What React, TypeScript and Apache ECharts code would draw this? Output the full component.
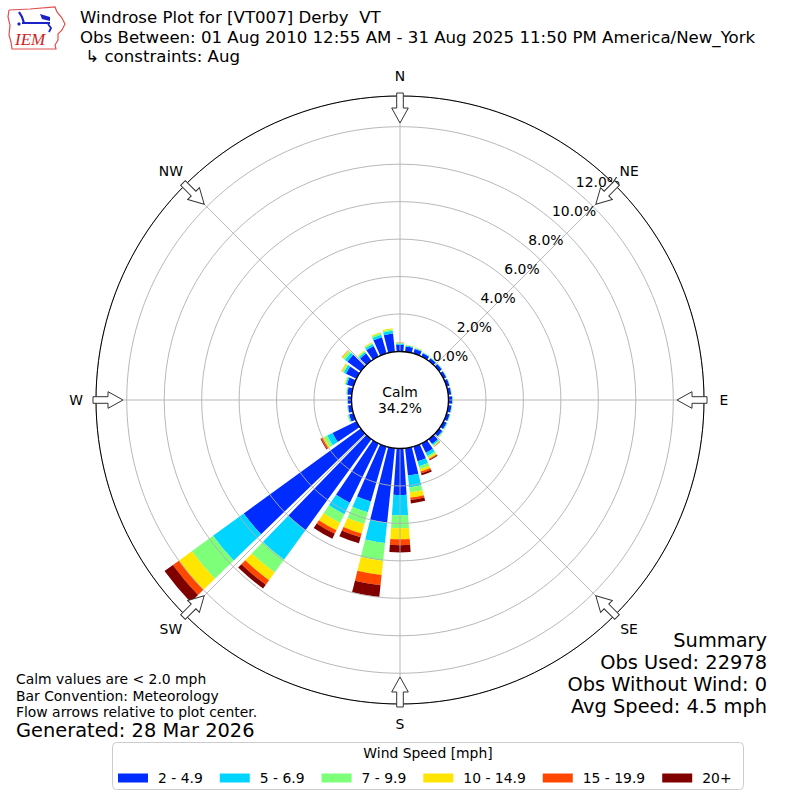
import React, { useEffect, useRef } from "react";
import * as echarts from "echarts";

// ---------- data ----------
const DIRECTIONS = [
  "0", "10", "20", "30", "40", "50", "60", "70", "80", "90", "100", "110",
  "120", "130", "140", "150", "160", "170", "180", "190", "200", "210", "220", "230",
  "240", "250", "260", "270", "280", "290", "300", "310", "320", "330", "340", "350",
];
const SPEED_BINS = ["2 - 4.9", "5 - 6.9", "7 - 9.9", "10 - 14.9", "15 - 19.9", "20+"];
const BIN_COLORS = ["#002cff", "#00d4ff", "#7dff7a", "#ffe500", "#ff4700", "#800000"];

// percent of observations per direction for each speed bin
const SPD_2_5 = [
  0.36, 0.28, 0.25, 0.19, 0.17, 0.17, 0.16, 0.16, 0.16, 0.19, 0.17, 0.17,
  0.18, 0.2, 0.32, 0.55, 0.81, 1.47, 2.48, 4.0, 3.05, 3.52, 6.0, 7.72,
  1.42, 0.24, 0.2, 0.19, 0.24, 0.36, 0.62, 0.88, 0.48, 0.62, 0.9, 0.98,
];
const SPD_5_7 = [
  0.07, 0.05, 0.04, 0.03, 0.03, 0.03, 0.02, 0.02, 0.02, 0.03, 0.03, 0.03,
  0.04, 0.05, 0.08, 0.18, 0.28, 0.63, 1.08, 1.09, 0.6, 0.67, 1.95, 2.03,
  0.32, 0.05, 0.03, 0.03, 0.04, 0.07, 0.13, 0.17, 0.09, 0.11, 0.14, 0.15,
];
const SPD_7_10 = [
  0.03, 0.03, 0.02, 0.02, 0.01, 0.01, 0.01, 0.01, 0.01, 0.01, 0.01, 0.01,
  0.02, 0.03, 0.05, 0.1, 0.16, 0.28, 0.7, 0.96, 0.65, 0.52, 0.85, 1.4,
  0.18, 0.03, 0.02, 0.01, 0.02, 0.04, 0.08, 0.12, 0.06, 0.07, 0.09, 0.08,
];
const SPD_10_15 = [
  0.02, 0.02, 0.02, 0.01, 0.01, 0.01, 0.01, 0.01, 0.01, 0.01, 0.01, 0.01,
  0.01, 0.02, 0.03, 0.08, 0.13, 0.27, 0.59, 0.76, 0.53, 0.44, 0.5, 0.85,
  0.1, 0.02, 0.01, 0.01, 0.02, 0.03, 0.06, 0.07, 0.04, 0.04, 0.05, 0.05,
];
const SPD_15_20 = [
  0.01, 0, 0, 0, 0, 0, 0, 0, 0, 0, 0, 0,
  0, 0, 0.01, 0.05, 0.1, 0.13, 0.31, 0.54, 0.21, 0.21, 0.3, 0.4,
  0.08, 0, 0, 0, 0, 0, 0.01, 0.02, 0, 0, 0, 0,
];
const SPD_20_UP = [
  0, 0, 0, 0, 0, 0, 0, 0, 0, 0, 0, 0,
  0, 0, 0.01, 0.04, 0.11, 0.18, 0.39, 0.64, 0.33, 0.29, 0.25, 0.55,
  0.04, 0, 0, 0, 0, 0, 0, 0, 0, 0, 0, 0,
];
const BIN_VALUES = [SPD_2_5, SPD_5_7, SPD_7_10, SPD_10_15, SPD_15_20, SPD_20_UP];

const RADIAL_TICKS = [0, 2, 4, 6, 8, 10, 12];
const COMPASS_LABELS = ["N", "NE", "E", "SE", "S", "SW", "W", "NW"];
const COMPASS_ANGLES = [0, 45, 90, 135, 180, 225, 270, 315];

const TITLE_LINES = [
  "Windrose Plot for [VT007] Derby  VT",
  "Obs Between: 01 Aug 2010 12:55 AM - 31 Aug 2025 11:50 PM America/New_York",
  " \u21b3 constraints: Aug",
];
const NOTE_LINES = [
  "Calm values are < 2.0 mph",
  "Bar Convention: Meteorology",
  "Flow arrows relative to plot center.",
];
const GENERATED = "Generated: 28 Mar 2026";
const SUMMARY_LINES = ["Summary", "Obs Used: 22978", "Obs Without Wind: 0", "Avg Speed: 4.5 mph"];
const CALM_TEXT = "Calm\n34.2%";
const LEGEND_TITLE = "Wind Speed [mph]";

// ---------- layout ----------
const CX = 400;
const CY = 400;
const R0 = 48.5;
const R1 = 304;
const RMAX = 13.64;
const FONT = "'DejaVu Sans', sans-serif";
const GRID = "#b0b0b0";

function txt(text: string, x: number, y: number, size: number, align = "left", valign = "middle", extra: any = {}) {
  return {
    type: "text",
    z: 100,
    style: {
      text,
      x,
      y,
      fill: "#000",
      font: `${size}px ${FONT}`,
      textAlign: align,
      textVerticalAlign: valign,
      align,
      verticalAlign: valign,
      ...extra,
    },
  };
}

function buildGraphics() {
  const g: any[] = [];
  // logo
  g.push({
    type: "polyline",
    z: 100,
    shape: {
      points: [
        [9, 10], [30, 9], [55, 7], [57, 12], [62, 18], [65, 24], [62, 30], [58, 34],
        [58, 40], [55, 45], [56, 49], [30, 49], [12, 49], [11, 42], [9, 35], [10, 25], [8, 17], [9, 10],
      ],
    },
    style: { stroke: "#e05050", lineWidth: 1.2, fill: "none" },
  });
  g.push({ type: "polyline", z: 101, shape: { points: [[19, 12], [22, 17], [24, 23]] }, style: { stroke: "#1a22c8", lineWidth: 2.2, fill: "none" } });
  g.push({ type: "line", z: 101, shape: { x1: 22, y1: 23, x2: 50, y2: 23 }, style: { stroke: "#1a22c8", lineWidth: 2 } });
  g.push({ type: "polygon", z: 101, shape: { points: [[40, 14], [50, 17], [50, 21], [42, 19]] }, style: { fill: "#1a22c8" } });
  g.push({ type: "polyline", z: 101, shape: { points: [[48, 24], [51, 28], [49, 32]] }, style: { stroke: "#1a22c8", lineWidth: 1.8, fill: "none" } });
  g.push({ type: "circle", z: 101, shape: { cx: 19, cy: 24, r: 1.6 }, style: { fill: "#1a22c8" } });
  g.push({
    type: "text",
    z: 101,
    style: { text: "IEM", x: 15, y: 39, fill: "#d42020", font: "italic 17px 'Liberation Serif', serif", textVerticalAlign: "middle", verticalAlign: "middle", lineHeight: 16 },
  });

  // titles
  TITLE_LINES.forEach((t, i) => g.push(txt(t, 80, 17.5 + i * 19.5, 16.6, "left", "middle", { lineHeight: 17 })));

  // radial tick labels
  const la = (39.5 * Math.PI) / 180;
  RADIAL_TICKS.forEach((v) => {
    const r = R0 + ((R1 - R0) * v) / RMAX;
    g.push(txt(`${v.toFixed(1)}%`, CX + r * Math.sin(la) + 2, CY - r * Math.cos(la), 13.9, "left", "bottom"));
  });

  // compass labels and flow arrows
  COMPASS_LABELS.forEach((lab, i) => {
    const a = (COMPASS_ANGLES[i] * Math.PI) / 180;
    const rl = 324;
    g.push(txt(lab, CX + rl * Math.sin(a), CY - rl * Math.cos(a), 13.9, "center", "middle"));
    g.push({
      type: "group",
      x: CX,
      y: CY,
      rotation: -a,
      z: 100,
      children: [
        {
          type: "polygon",
          z: 100,
          shape: {
            points: [
              [-3.3, -307], [3.3, -307], [3.3, -292], [8.3, -292], [0, -277], [-8.3, -292], [-3.3, -292],
            ],
          },
          style: { fill: "#fff", stroke: "#333", lineWidth: 1 },
        },
      ],
    });
  });

  // calm circle
  g.push({
    type: "circle",
    z: 90,
    shape: { cx: CX, cy: CY, r: R0 },
    style: { fill: "#fff", stroke: "#000", lineWidth: 1.3 },
  });
  g.push(txt(CALM_TEXT, CX, CY, 13.9, "center", "middle", { lineHeight: 16 }));

  // notes
  NOTE_LINES.forEach((t, i) => g.push(txt(t, 16, 679 + i * 16.5, 13.9, "left", "middle", { lineHeight: 15 })));
  g.push(txt(GENERATED, 16, 730, 19.4, "left", "middle", { lineHeight: 19 }));

  // summary
  SUMMARY_LINES.forEach((t, i) => g.push(txt(t, 767, 640 + i * 22, 19.4, "right", "middle", { lineHeight: 21 })));

  // legend box
  g.push({
    type: "rect",
    z: 50,
    shape: { x: 112.5, y: 742.5, width: 631, height: 47, r: 4 },
    style: { fill: "rgba(255,255,255,0.8)", stroke: "#cccccc", lineWidth: 1 },
  });
  g.push(txt(LEGEND_TITLE, 428, 753, 13.9, "center"));
  return g;
}

export default function App() {
  const ref = useRef<HTMLDivElement>(null);
  useEffect(() => {
    document.body.style.margin = "0";
    const chart = echarts.init(ref.current as HTMLDivElement, undefined, { renderer: "svg" });
    const series = SPEED_BINS.map((name, i) => ({
      name,
      type: "bar",
      coordinateSystem: "polar",
      polarIndex: 1,
      stack: "wind",
      barCategoryGap: "20%",
      data: BIN_VALUES[i],
      itemStyle: { color: BIN_COLORS[i] },
      z: 2,
    }));
    chart.setOption({
      animation: false,
      backgroundColor: "#fff",
      polar: [
        { center: [CX, CY], radius: [R0, R1] },
        { center: [CX, CY], radius: [R0, R1] },
      ],
      angleAxis: [
        {
          polarIndex: 0,
          type: "value",
          min: 0,
          max: 360,
          interval: 45,
          startAngle: 90,
          clockwise: true,
          z: 5,
          axisLine: { show: true, lineStyle: { color: "#000", width: 1 } },
          axisTick: { show: false },
          axisLabel: { show: false },
          splitLine: { show: true, lineStyle: { color: GRID, width: 0.9 } },
        },
        {
          polarIndex: 1,
          type: "category",
          data: DIRECTIONS,
          startAngle: 95,
          clockwise: true,
          boundaryGap: true,
          axisLine: { show: false },
          axisTick: { show: false },
          axisLabel: { show: false },
          splitLine: { show: false },
        },
      ],
      radiusAxis: [
        {
          polarIndex: 0,
          type: "value",
          min: 0,
          max: RMAX,
          interval: 2,
          z: 5,
          axisLine: { show: false },
          axisTick: { show: false },
          axisLabel: { show: false },
          splitLine: { show: true, lineStyle: { color: GRID, width: 0.9 } },
        },
        {
          polarIndex: 1,
          type: "value",
          min: 0,
          max: RMAX,
          axisLine: { show: false },
          axisTick: { show: false },
          axisLabel: { show: false },
          splitLine: { show: false },
        },
      ],
      legend: {
        data: SPEED_BINS,
        left: 113,
        top: 766,
        orient: "horizontal",
        icon: "rect",
        itemWidth: 30,
        itemHeight: 9,
        itemGap: 17,
        selectedMode: false,
        z: 60,
        textStyle: { fontFamily: FONT, fontSize: 13.9, color: "#000", padding: [0, 0, 0, 5] },
      },
      graphic: buildGraphics(),
      series,
    });
    return () => chart.dispose();
  }, []);
  return <div ref={ref} style={{ position: "absolute", left: 0, top: 0, width: 800, height: 800 }} />;
}
